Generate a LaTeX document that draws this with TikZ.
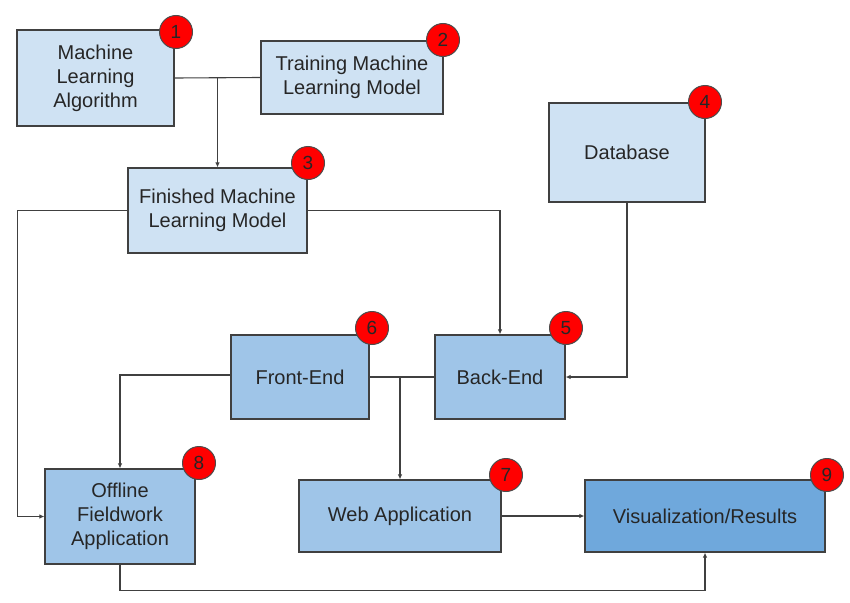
\documentclass[tikz,border=0pt]{standalone}
\usepackage{fontspec}
\setmainfont{Liberation Sans}
\usetikzlibrary{arrows.meta}
\definecolor{lightblue}{HTML}{CFE2F3}
\definecolor{midblue}{HTML}{9FC5E8}
\definecolor{darkblue}{HTML}{6FA8DC}
\begin{document}
\begin{tikzpicture}[x=1pt,y=-1pt,
    box/.style={draw=black!75,line width=1.2pt,rectangle,align=center,text=black!85,font=\fontsize{20}{24}\selectfont},
    badge/.style={draw=black!70,line width=1pt,circle,fill=red,minimum size=33pt,inner sep=0pt,text=black!85,font=\fontsize{19}{19}\selectfont},
    link/.style={draw=black!75,line width=1.1pt},
    arrow/.style={link,-{Latex[length=5pt,width=4.5pt]}}]
        \useasboundingbox (0,0) rectangle (850,602);
        % boxes
        \node[box,fill=lightblue,minimum width=157pt,minimum height=96pt] (algo) at (95.5,78) {Machine\\Learning\\Algorithm};
        \node[box,fill=lightblue,minimum width=182pt,minimum height=73pt] (train) at (352,77.5) {Training Machine\\Learning Model};
        \node[box,fill=lightblue,minimum width=179pt,minimum height=85pt] (model) at (217.5,210.5) {Finished Machine\\Learning Model};
        \node[box,fill=lightblue,minimum width=156pt,minimum height=99pt] (db) at (627,152.5) {Database};
        \node[box,fill=midblue,minimum width=130pt,minimum height=84pt] (back) at (500,377) {Back-End};
        \node[box,fill=midblue,minimum width=138pt,minimum height=84pt] (front) at (300,377) {Front-End};
        \node[box,fill=midblue,minimum width=150pt,minimum height=95pt] (offline) at (120,516.5) {Offline\\Fieldwork\\Application};
        \node[box,fill=midblue,minimum width=202pt,minimum height=72pt] (web) at (400,516) {Web Application};
        \node[box,fill=darkblue,minimum width=240pt,minimum height=72pt] (viz) at (705,516) {Visualization/Results};
        % connectors
        \draw[link] (algo.east) -- (train.west);
        \draw[arrow] (algo.east -| model.north) -- (model.north);
        \draw[arrow] (model.west) -- ++(-110,0) |- (offline.west);
        \draw[arrow] (model.east) -| (back.north);
        \draw[arrow] (db.south) |- (back.east);
        \draw[link] (front.east) -- (back.west);
        \draw[arrow] (front.east -| web.north) -- (web.north);
        \draw[arrow] ([yshift=2pt]front.west) -| (offline.north);
        \draw[arrow] (web.east) -- (viz.west);
        \draw[arrow] (offline.south) -- ++(0,26) -| (viz.south);
        % numbers
        \node[badge] (b1) at (176,32) {1};
        \node[badge] (b2) at (443,40) {2};
        \node[badge] (b3) at (308,163) {3};
        \node[badge] (b4) at (705,102) {4};
        \node[badge] (b5) at (566,328) {5};
        \node[badge] (b6) at (372,328) {6};
        \node[badge] (b7) at (506,475) {7};
        \node[badge] (b8) at (199,463) {8};
        \node[badge] (b9) at (827,475) {9};
\end{tikzpicture}
\end{document}
